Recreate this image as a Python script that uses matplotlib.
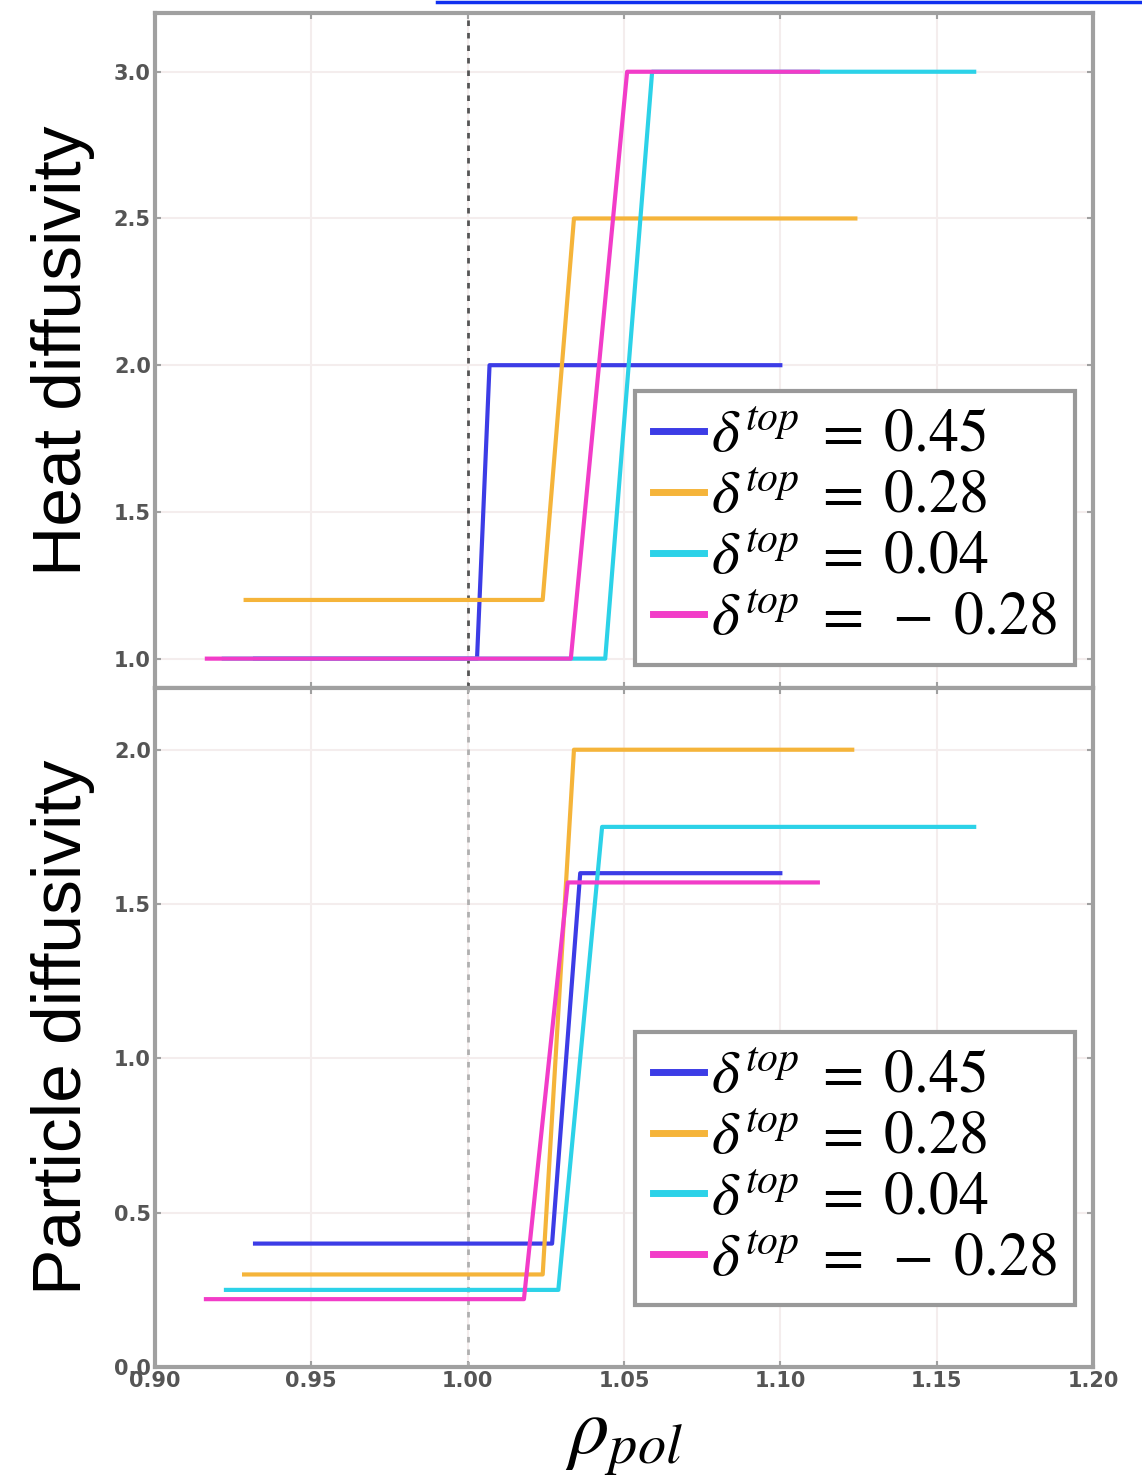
import numpy as np
import matplotlib
matplotlib.use("Agg")
import matplotlib.pyplot as plt
from matplotlib.lines import Line2D

plt.rcParams['mathtext.fontset'] = 'stix'
plt.rcParams['font.family'] = ['Liberation Sans', 'DejaVu Sans']

labels = [r'$\delta^{top}\;=\;0.45$', r'$\delta^{top}\;=\;0.28$',
          r'$\delta^{top}\;=\;0.04$', r'$\delta^{top}\;=\;-\;0.28$']
colors = ['#3c3ce6', '#f5b43a', '#2cd2e8', '#f23cc8']

# step profiles: start, jump start, jump end, stop
heat_x = [[0.932, 1.003, 1.007, 1.100],
          [0.929, 1.024, 1.034, 1.124],
          [0.922, 1.044, 1.059, 1.162],
          [0.9166, 1.033, 1.051, 1.112]]
heat_lo = [1.0, 1.2, 1.0, 1.0]
heat_hi = [2.0, 2.5, 3.0, 3.0]

part_x = [[0.932, 1.027, 1.036, 1.100],
          [0.9285, 1.024, 1.034, 1.123],
          [0.9227, 1.029, 1.043, 1.162],
          [0.9163, 1.018, 1.032, 1.112]]
part_lo = [0.40, 0.30, 0.25, 0.22]
part_hi = [1.60, 2.00, 1.75, 1.57]

xticks = [0.90, 0.95, 1.00, 1.05, 1.10, 1.15, 1.20]
heat_yticks = [1.0, 1.5, 2.0, 2.5, 3.0]
part_yticks = [0.0, 0.5, 1.0, 1.5, 2.0]

fig = plt.figure(figsize=(11.42, 14.84), dpi=100)
ax1 = fig.add_axes([0.1357, 0.5364, 0.8214, 0.4548])
ax2 = fig.add_axes([0.1357, 0.0788, 0.8214, 0.4576])


def style(ax, yticks, ylim, showx):
    ax.set_xlim(0.90, 1.20)
    ax.set_ylim(*ylim)
    ax.set_xticks(xticks)
    ax.set_yticks(yticks)
    ax.set_yticklabels(['%.1f' % v for v in yticks])
    if showx:
        ax.set_xticklabels(['%.2f' % v for v in xticks])
    else:
        ax.set_xticklabels([])
    ax.grid(True, color='#f4eded', lw=1.5, zorder=0)
    ax.set_axisbelow(True)
    for s in ax.spines.values():
        s.set_color('#a0a0a0')
        s.set_linewidth(3)
    ax.tick_params(direction='in', length=4, width=1.5, color='#a0a0a0',
                   top=True, right=True, labelsize=15, labelcolor='#555555',
                   pad=3)
    for t in ax.get_xticklabels() + ax.get_yticklabels():
        t.set_fontweight('bold')
        t.set_family('DejaVu Sans')


def draw(ax, xs, lo, hi):
    for x, l, h, c, lab in zip(xs, lo, hi, colors, labels):
        ax.plot(x, [l, l, h, h], color=c, lw=3, label=lab, zorder=3)


draw(ax1, heat_x, heat_lo, heat_hi)
draw(ax2, part_x, part_lo, part_hi)
ax1.axvline(1.0, color='#555555', lw=2, ls=(0, (2, 2.5)), zorder=2)
ax2.axvline(1.0, color='#b0b0b0', lw=2, ls=(0, (2, 2.5)), zorder=2)

style(ax1, heat_yticks, (0.9, 3.2), False)
style(ax2, part_yticks, (0.0, 2.2), True)

ax1.set_ylabel('Heat diffusivity', fontsize=50)
ax2.set_ylabel('Particle diffusivity', fontsize=50)
ax1.yaxis.set_label_coords(-0.064, 0.5)
ax2.yaxis.set_label_coords(-0.064, 0.5)
ax2.set_xlabel(r'$\rho_{pol}$', fontsize=58, labelpad=8)

for ax, anchor in [(ax1, (0.981, 0.034)), (ax2, (0.981, 0.091))]:
    leg = ax.legend(loc='lower right', bbox_to_anchor=anchor, fontsize=43,
                    handlelength=0.85, handletextpad=0.12, borderpad=0.3,
                    labelspacing=0.1, borderaxespad=0, fancybox=False,
                    framealpha=1, edgecolor='#999999')
    leg.get_frame().set_linewidth(3)
    for h in leg.get_lines():
        h.set_linewidth(5)

# link underline running off the top edge
fig.add_artist(Line2D([0.383, 1.0], [0.9985, 0.9985], color='#1030f0', lw=2.5,
                      transform=fig.transFigure))

fig.savefig('out.png', dpi=100)
